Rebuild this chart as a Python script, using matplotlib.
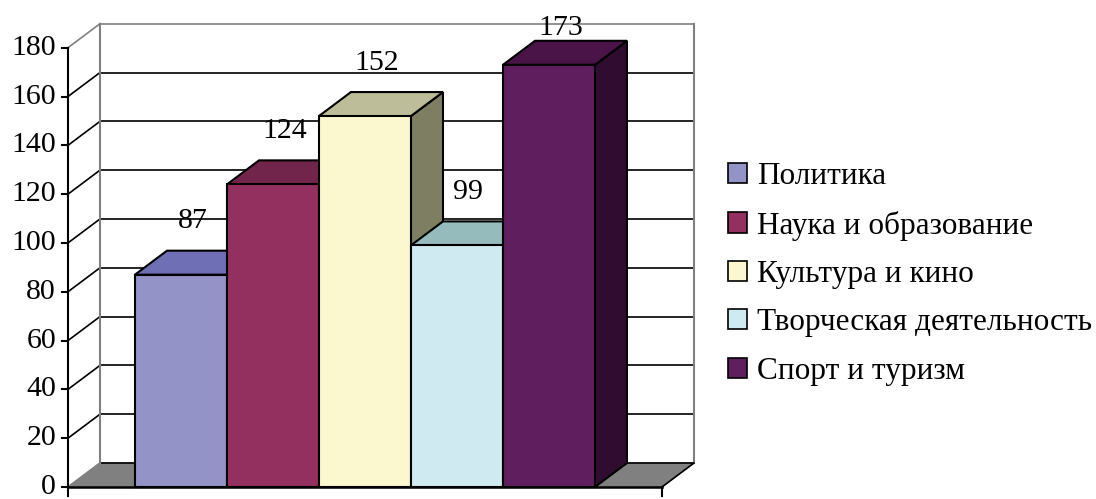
import numpy as np
import matplotlib.pyplot as plt
from matplotlib.patches import Polygon, Patch

# Categories and values
labels = ['Политика', 'Наука и образование', 'Культура и кино',
          'Творческая деятельность', 'Спорт и туризм']
values = [87, 124, 152, 99, 173]

# Face colours: front, top, side
front_colors = ['#9393C8', '#933060', '#FBF8D0', '#CFEAF0', '#5F1F5F']
top_colors   = ['#6F6FB6', '#72254A', '#BDBD99', '#95BBBC', '#4A1448']
side_colors  = ['#4A4A80', '#4C1830', '#7E7F62', '#6E8C90', '#310C31']

y_ticks = np.arange(0, 181, 20)
y_max = 180

# 3D look: depth offset (x in bar widths, y in value units)
dx = 0.348
dy = 9.83
gap = 0.728
floor_w = 2 * gap + len(values)

fig = plt.figure(figsize=(10.96, 4.99), dpi=100)
ax = fig.add_axes([0, 0, 1, 1])
ax.set_xlim(-0.739, 11.174)
ax.set_ylim(-4.92, 199.55)
ax.axis('off')

font = 'Liberation Serif'
grey = '#808080'

# Floor
ax.add_patch(Polygon([(0, 0), (floor_w, 0), (floor_w + dx, dy), (dx, dy)],
                     closed=True, facecolor=grey, edgecolor=grey, lw=1, zorder=1))
ax.plot([floor_w, floor_w + dx], [0, dy], color='black', lw=1.2, zorder=1.5)

# Walls and gridlines
for t in y_ticks:
    c = grey if t == y_max else 'black'
    ax.plot([dx, floor_w + dx], [t + dy, t + dy], color=c, lw=1.2, zorder=1)
    ax.plot([0, dx], [t, t + dy], color=c if t > 0 else grey, lw=1.2, zorder=1)
ax.plot([dx, dx], [dy, y_max + dy], color=grey, lw=1.5, zorder=1.2)
ax.plot([floor_w + dx, floor_w + dx], [dy, y_max + dy], color=grey, lw=1.5, zorder=1.2)

# Bars, drawn left to right so later ones cover earlier sides
for i, v in enumerate(values):
    x0 = gap + i
    x1 = x0 + 1
    z = 2 + i
    side = [(x1, 0), (x1 + dx, dy), (x1 + dx, v + dy), (x1, v)]
    top = [(x0, v), (x1, v), (x1 + dx, v + dy), (x0 + dx, v + dy)]
    front = [(x0, 0), (x1, 0), (x1, v), (x0, v)]
    for pts, col in [(side, side_colors[i]), (top, top_colors[i]), (front, front_colors[i])]:
        ax.add_patch(Polygon(pts, closed=True, facecolor=col, edgecolor='black',
                             lw=1.5, joinstyle='miter', zorder=z))

# Value labels above each bar top
for i, v in enumerate(values):
    xc = gap + i + 0.5 + dx / 2 - 0.05
    yl = min(v + dy + 12, 188)
    ax.text(xc, yl, str(v), ha='center', va='center', fontsize=21.5,
            family=font, zorder=10)

# Axes lines and ticks
ax.plot([0, 0], [0, y_max], color='black', lw=1.5, zorder=11)
ax.plot([0, floor_w], [0, 0], color='black', lw=1.8, zorder=11)
for t in y_ticks:
    ax.plot([-0.06, 0], [t, t], color='black', lw=1.5, zorder=11)
    ax.text(-0.13, t, str(t), ha='right', va='center', fontsize=21.5,
            family=font, zorder=11)
for xt in [0, floor_w]:
    ax.plot([xt, xt], [0, -3.5], color='black', lw=1.5, zorder=11)

# Legend
handles = [Patch(facecolor=c, edgecolor='black', lw=1.2) for c in front_colors]
leg = ax.legend(handles, labels, loc='center left', bbox_to_anchor=(0.650, 0.451),
                frameon=False, prop={'family': font, 'size': 22.5},
                handlelength=0.62, handleheight=0.62, handletextpad=0.3,
                labelspacing=0.62, borderpad=0)

fig.savefig('out.png', dpi=100, facecolor='white')
